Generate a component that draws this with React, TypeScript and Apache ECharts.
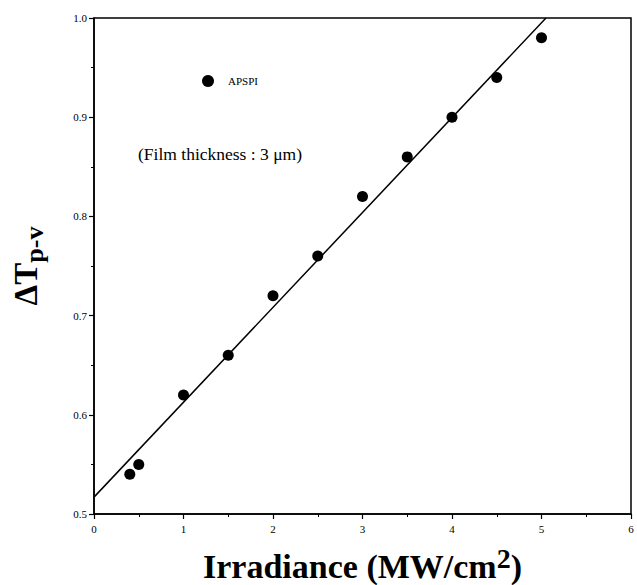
import React, { useEffect, useRef } from "react";
import * as echarts from "echarts";

const irradiance = [0.4, 0.5, 1.0, 1.5, 2.0, 2.5, 3.0, 3.5, 4.0, 4.5, 5.0];
const deltaT = [0.54, 0.55, 0.62, 0.66, 0.72, 0.76, 0.82, 0.86, 0.9, 0.94, 0.98];
const fitX = [0, 5.05];
const fitY = [0.517, 1.0];
const seriesName = "APSPI";
const noteText = "(Film thickness : 3 \u03bcm)";

const SERIF = "'Liberation Serif', 'Times New Roman', Times, serif";

export default function App() {
  const ref = useRef<HTMLDivElement>(null);
  useEffect(() => {
    if (!ref.current) return;
    const chart = echarts.init(ref.current, undefined, { renderer: "svg" });
    chart.setOption({
      animation: false,
      backgroundColor: "#ffffff",
      grid: { left: 94, right: 6, top: 18, bottom: 71, containLabel: false, outerBoundsMode: "none" },
      legend: {
        show: true,
        data: [{ name: seriesName, icon: "circle" }],
        left: 197,
        top: 70,
        itemWidth: 12,
        itemHeight: 12,
        itemGap: 6,
        itemStyle: { opacity: 1, color: "#000" },
        textStyle: { fontFamily: SERIF, fontSize: 11, color: "#000", padding: [0, 0, 0, 9] },
      },
      xAxis: {
        type: "value",
        min: 0,
        max: 6,
        interval: 1,
        axisLine: { show: true, onZero: false, lineStyle: { color: "#000", width: 1.5 } },
        axisTick: { show: true, length: 5, lineStyle: { color: "#000", width: 1.2 } },
        minorTick: { show: true, splitNumber: 2, length: 3, lineStyle: { color: "#000", width: 1 } },
        splitLine: { show: false },
        axisLabel: { fontFamily: SERIF, fontSize: 11, color: "#000", margin: 9 },
        name: "{a|Irradiance (MW/cm}{b|2}{a|)}",
        nameLocation: "middle",
        nameGap: 30,
        nameTextStyle: {
          rich: {
            a: { fontFamily: SERIF, fontSize: 34, fontWeight: "bold", color: "#000" },
            b: { fontFamily: SERIF, fontSize: 28, fontWeight: "bold", color: "#000", padding: [0, 0, 16, 0] },
          },
        },
      },
      yAxis: {
        type: "value",
        min: 0.5,
        max: 1.0,
        interval: 0.1,
        axisLine: { show: true, onZero: false, lineStyle: { color: "#000", width: 1.5 } },
        axisTick: { show: true, length: 5, lineStyle: { color: "#000", width: 1.2 } },
        minorTick: { show: true, splitNumber: 2, length: 3, lineStyle: { color: "#000", width: 1 } },
        splitLine: { show: false },
        axisLabel: {
          fontFamily: SERIF,
          fontSize: 11,
          color: "#000",
          margin: 7,
          formatter: (v: number) => v.toFixed(1),
        },
        name: "{a|\u0394T}{b|p-v}",
        nameLocation: "middle",
        nameGap: 47,
        nameRotate: 90,
        nameTextStyle: {
          rich: {
            a: { fontFamily: SERIF, fontSize: 33, fontWeight: "bold", color: "#000" },
            b: { fontFamily: SERIF, fontSize: 26, fontWeight: "bold", color: "#000", padding: [16, 0, 0, 0] },
          },
        },
      },
      graphic: [
        {
          type: "rect",
          shape: { x: 94, y: 18, width: 537, height: 496 },
          style: { fill: "none", stroke: "#000", lineWidth: 1.5 },
          silent: true,
          z: 0,
        },
        {
          type: "text",
          left: 138,
          top: 145,
          style: { text: noteText, fontFamily: SERIF, fontSize: 17.5, fill: "#000" },
        },
      ],
      series: [
        {
          name: seriesName,
          type: "scatter",
          symbol: "circle",
          symbolSize: 11,
          itemStyle: { color: "#000", opacity: 1 },
          data: irradiance.map((x, i) => [x, deltaT[i]]),
          z: 3,
        },
        {
          name: "fit",
          type: "line",
          showSymbol: false,
          symbol: "none",
          clip: true,
          lineStyle: { color: "#000", width: 1.5 },
          data: fitX.map((x, i) => [x, fitY[i]]),
          z: 2,
        },
      ],
    });
    return () => chart.dispose();
  }, []);
  return (
    <div
      ref={ref}
      style={{ position: "fixed", left: 0, top: 0, width: 637, height: 585, background: "#fff" }}
    />
  );
}
